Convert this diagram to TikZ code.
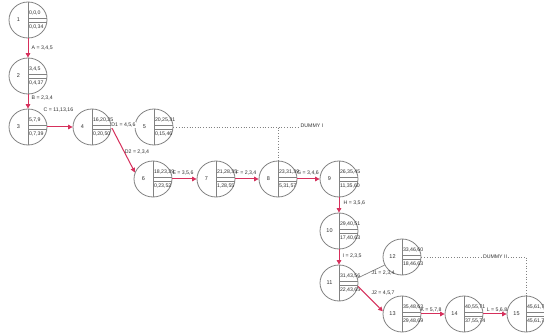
\documentclass[tikz,border=0pt]{standalone}
\usepackage{fontspec}
\setmainfont{Liberation Sans}
\usetikzlibrary{shapes.geometric,arrows.meta}
\definecolor{critc}{RGB}{214,48,92}
\definecolor{ring}{RGB}{130,130,130}
\definecolor{txt}{RGB}{50,50,50}
\tikzset{
 ev/.style={ellipse, draw=ring, line width=0.8pt, minimum width=38pt, minimum height=36pt, inner sep=0pt},
 divl/.style={draw=ring, line width=0.7pt},
 critedge/.style={draw=critc, line width=1pt, -{Triangle[length=4.5pt,width=4.5pt]}},
 grayedge/.style={draw=ring, line width=0.7pt},
 dummyedge/.style={draw=ring, line width=0.7pt, dotted},
 lbl/.style={font=\fontsize{5.2}{6}\selectfont, text=txt, inner sep=0.5pt},
 lblw/.style={lbl, fill=white},
 num/.style={font=\fontsize{5.5}{6}\selectfont, text=txt, inner sep=0pt},
 val/.style={font=\fontsize{5.2}{6}\selectfont, text=txt, inner sep=0pt, anchor=west},
}
\newcommand\pertev[6]{%
 \node[ev] (#1) at (#2,#3) {};
 \draw[divl] (#1.north) -- (#1.south);
 \draw[divl] (#2,#3-2) -- ++(18.8,0);
 \draw[divl] (#2,#3+2) -- ++(18.8,0);
 \node[num] (#1num) at (#2-9.5,#3) {#4};
 \node[val] (#1top) at (#2+0.8,#3-7) {#5};
 \node[val] (#1bot) at (#2+0.8,#3+7.5) {#6};
}
\begin{document}
\begin{tikzpicture}[x=1pt,y=-1pt]
\fill[white] (0,0) rectangle (544,336);
\useasboundingbox (0,0) rectangle (544,336);
\pertev{n1}{28}{20}{1}{0,0,0}{0,0,34}
\pertev{n2}{28}{76}{2}{3,4,5}{0,4,37}
\pertev{n3}{28}{127}{3}{5,7,9}{0,7,39}
\pertev{n4}{92}{127}{4}{16,20,25}{0,20,50}
\pertev{n5}{154}{127}{5}{20,25,31}{0,15,46}
\pertev{n6}{153}{179}{6}{18,23,29}{0,23,52}
\pertev{n7}{216}{179}{7}{21,28,35}{1,28,55}
\pertev{n8}{278}{179}{8}{23,31,39}{5,31,57}
\pertev{n9}{339}{179}{9}{26,35,45}{11,35,60}
\pertev{n10}{339}{231}{10}{29,40,51}{17,40,63}
\pertev{n11}{339}{283}{11}{31,43,56}{22,43,65}
\pertev{n12}{402}{257}{12}{33,46,60}{18,46,63}
\pertev{n13}{402}{314}{13}{35,48,63}{29,48,69}
\pertev{n14}{464}{314}{14}{40,55,71}{37,55,74}
\pertev{n15}{526}{314}{15}{45,61,79}{45,61,79}

\coordinate (d1end) at (298,127);
\draw[dummyedge] (n5.east) -| (n8.north);
\draw[dummyedge] (n5.east) -- (d1end);
\node[lbl, anchor=west] (ldummy1) at (300,126) {DUMMY I};
\draw[dummyedge] (n12.east) -| (n15.north);
\node[lblw] (ldummy2) at (495,257) {DUMMY II};

\draw[critedge] (n1) -- (n2);
\draw[critedge] (n2) -- (n3);
\draw[critedge] (n3) -- (n4);
\draw[grayedge] (n4) -- (n5);
\draw[critedge] (n4.east) -- (n6.160);
\draw[critedge] (n6) -- (n7);
\draw[critedge] (n7) -- (n8);
\draw[critedge] (n8) -- (n9);
\draw[critedge] (n9) -- (n10);
\draw[critedge] (n10) -- (n11);
\draw[grayedge] (n11.15) -- (n12.205);
\draw[critedge] (n11.-10) -- (n13.172);
\draw[critedge] (n13) -- (n14);
\draw[critedge] (n14) -- (n15);

\node[lbl, anchor=west] (lA) at (31,48) {A = 3,4,5};
\node[lbl, anchor=west] (lB) at (31,98) {B = 2,3,4};
\node[lbl, anchor=west] (lC) at (43,110) {C = 11,13,16};
\node[lblw] (lD1) at (123.5,125) {D1 = 4,5,6};
\node[lbl] (lD2) at (137,152) {D2 = 2,3,4};
\node[lbl] (lE) at (183,173) {E = 3,5,6};
\node[lbl] (lF) at (246,173) {F = 2,3,4};
\node[lbl] (lG) at (308,173) {G = 3,4,6};
\node[lbl, anchor=west] (lH) at (343,203) {H = 3,5,6};
\node[lbl, anchor=west] (lI) at (342,256) {I = 2,3,5};
\node[lbl] (lJ1) at (383,273) {J1 = 2,3,4};
\node[lbl] (lJ2) at (383,293) {J2 = 4,5,7};
\node[lbl] (lK) at (431,310) {K = 5,7,8};
\node[lbl] (lL) at (497,310) {L = 5,6,8};
\end{tikzpicture}
\end{document}
